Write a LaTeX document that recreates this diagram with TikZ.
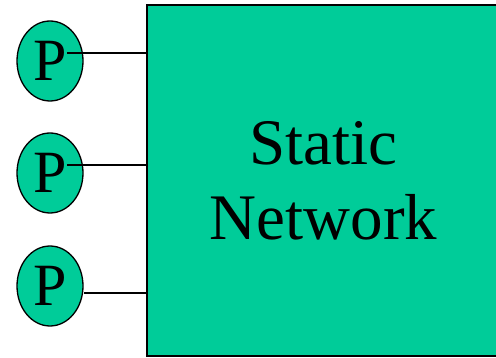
\documentclass[tikz,border=0pt]{standalone}
\usepackage{fontspec}
\setmainfont{Liberation Serif}
\usetikzlibrary{shapes.geometric,calc}
\definecolor{netTeal}{HTML}{00CC99}

\begin{document}
\begin{tikzpicture}[
  x=1pt,y=-1pt,
  proc/.style={ellipse,draw,line width=1.3pt,fill=netTeal,minimum width=66pt,minimum height=80pt,inner sep=0pt,font=\fontsize{60}{60}\selectfont},
  netbox/.style={draw,line width=1.5pt,fill=netTeal,minimum width=353pt,minimum height=351pt,align=center,font=\fontsize{65}{75}\selectfont},
  wire/.style={line width=1.2pt}
]
  \useasboundingbox (0,0) rectangle (496,358);
  \node[netbox] (net) at (323.5,180.5) {Static\\Network};
  \node[proc] (p1) at (50,61) {P};
  \node[proc] (p2) at (50,173) {P};
  \node[proc] (p3) at (50,286) {P};
  % links from each processor into the network
  \path (p1.center) ++(17,-8) coordinate (a1);
  \path (p2.center) ++(17,-8) coordinate (a2);
  \path (p3.east) ++(0,7) coordinate (a3);
  \draw[wire] (a1) -- (a1 -| net.west);
  \draw[wire] (a2) -- (a2 -| net.west);
  \draw[wire] (a3) -- (a3 -| net.west);
\end{tikzpicture}
\end{document}
